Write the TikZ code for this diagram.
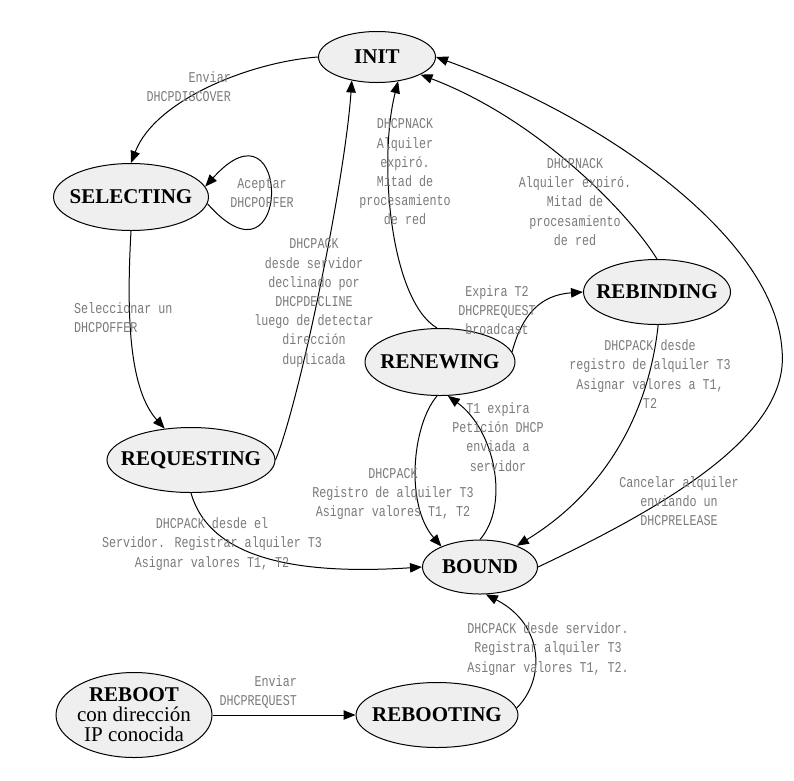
\documentclass[tikz,border=0pt]{standalone}
\usepackage{fontspec}
\setmainfont{Liberation Serif}
\newfontfamily\edgefont[FakeStretch=0.78]{Liberation Mono}
\usetikzlibrary{shapes.geometric,arrows.meta,positioning}
\definecolor{statefill}{HTML}{EFEFEF}
\definecolor{labelgray}{HTML}{7A7A7A}

\begin{document}
\begin{tikzpicture}[x=1pt,y=-1pt,>={Triangle[length=12pt,width=9.5pt]}]

      \tikzstyle{state}=[ellipse,draw=black,line width=1pt,fill=statefill,
        font=\fontsize{21}{20}\selectfont\bfseries,
        inner xsep=-40pt,inner ysep=-4pt,align=center]
      \tikzstyle{edgetext}=[font=\edgefont\fontsize{15}{19.2}\selectfont,
        text=labelgray,align=center,inner sep=0pt]
      \tikzstyle{link}=[line width=1pt,->]

      \useasboundingbox (0,0) rectangle (794,780);

      \node(INIT)[state,minimum width=117pt,minimum height=51pt]
        at (377,57){INIT};
      \node(SELECTING)[state,minimum width=155pt,minimum height=67pt]
        at (131,197){SELECTING};
      \node(REQUESTING)[state,minimum width=168pt,minimum height=65pt]
        at (191,460){REQUESTING};
      \node(RENEWING)[state,minimum width=150pt,minimum height=67pt]
        at (440,362){RENEWING};
      \node(REBINDING)[state,minimum width=147pt,minimum height=65pt]
        at (657,292){REBINDING};
      \node(BOUND)[state,minimum width=115pt,minimum height=54pt]
        at (480,567){BOUND};
      \node(REBOOT)[state,minimum width=156pt,minimum height=85pt]
        at (134,715){REBOOT\\{\mdseries con dirección}\\{\mdseries IP conocida}};
      \node(REBOOTING)[state,right=143pt of REBOOT,
        minimum width=162pt,minimum height=65pt]{REBOOTING};

      \draw [link] (INIT.west) .. controls (250,62) and (155,100)
        .. (SELECTING.north);
      \draw [link] (SELECTING.-5) .. controls (292,300) and (292,90)
        .. (SELECTING.8);
      \draw [link] (SELECTING.south) .. controls (126,320) and (130,390)
        .. (REQUESTING.130);
      \draw [link] (REQUESTING.east) .. controls (300,400) and (345,180)
        .. (INIT.223);
      \draw [link] (RENEWING.95) .. controls (390,300) and (378,160)
        .. (INIT.311);
      \draw [link] (REBINDING.north) .. controls (630,215) and (540,120)
        .. (INIT.338);
      \draw [link] (BOUND.east) .. controls (680,500) and (790,430) .. (782,350)
        .. controls (775,240) and (610,120) .. (INIT.east);
      \draw [link] (RENEWING.8) .. controls (522,315) and (540,295)
        .. (REBINDING.west);
      \draw [link] (REBINDING.272) .. controls (648,420) and (600,495)
        .. (BOUND.30);
      \draw [link] (REQUESTING.south) .. controls (210,560) and (300,575)
        .. (BOUND.west);
      \draw [link] (RENEWING.265) .. controls (412,425) and (405,505)
        .. (BOUND.152);
      \draw [link] (BOUND.north) .. controls (510,505) and (495,430)
        .. (RENEWING.283);
      \draw [link] (REBOOTING.5) .. controls (545,680) and (545,625)
        .. (BOUND.282);
      \draw [link] (REBOOT.east)--(REBOOTING.west);

      \node(txtDISCOVER)[edgetext,anchor=east,align=right]
        at (231,87){Enviar\\DHCPDISCOVER};
      \node(txtOFFER)[edgetext] at (262,193){Aceptar\\DHCPOFFER};
      \node(txtSELECT)[edgetext,anchor=west,align=left]
        at (74,318){Seleccionar un\\DHCPOFFER};
      \node(txtDECLINE)[edgetext] at (314,303){DHCPACK\\desde servidor\\
        declinado por\\DHCPDECLINE\\luego de detectar\\dirección\\duplicada};
      \node(txtNACKa)[edgetext] at (405,172){DHCPNACK\\Alquiler\\expiró.\\
        Mitad de\\procesamiento\\de red};
      \node(txtNACKb)[edgetext] at (575,202){DHCPNACK\\Alquiler expiró.\\
        Mitad de\\procesamiento\\de red};
      \node(txtEXPIRAT2)[edgetext] at (497,310){Expira T2\\DHCPREQUEST\\broadcast};
      \node(txtREBINDACK)[edgetext] at (650,374){DHCPACK desde\\
        registro de alquiler T3\\Asignar valores a T1,\\T2};
      \node(txtRELEASE)[edgetext] at (679,501){Cancelar alquiler\\
        enviando un\\DHCPRELEASE};
      \node(txtREQACK)[edgetext] at (212,544){DHCPACK desde el\\
        Servidor. Registrar alquiler T3\\Asignar valores T1, T2};
      \node(txtRENACK)[edgetext] at (393,494){DHCPACK\\
        Registro de alquiler T3\\Asignar valores T1, T2};
      \node(txtEXPIRAT1)[edgetext] at (498,437){T1 expira\\Petición DHCP\\
        enviada a\\servidor};
      \node(txtREBOOTACK)[edgetext] at (548,649){DHCPACK desde servidor.\\
        Registrar alquiler T3\\Asignar valores T1, T2.};
      \node(txtREQUEST)[edgetext,anchor=east,align=right]
        at (297,692){Enviar\\DHCPREQUEST};

    \end{tikzpicture}
\end{document}
